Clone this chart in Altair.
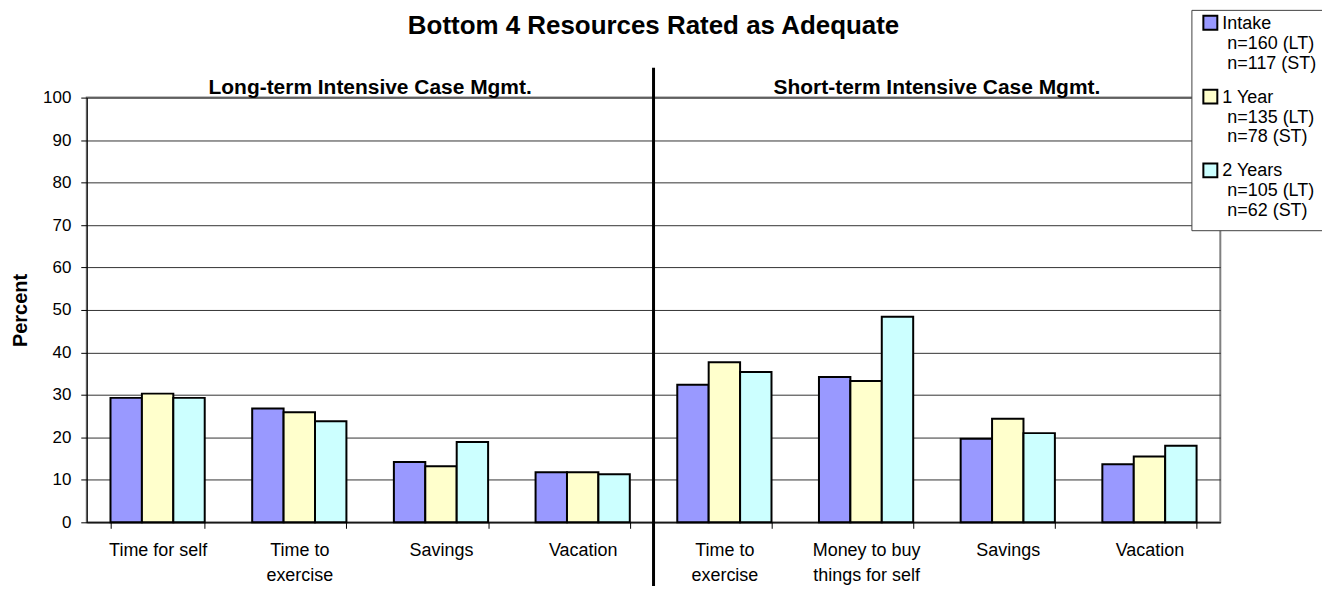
import altair as alt
import pandas as pd

FONT = "Liberation Sans"

TITLE = "Bottom 4 Resources Rated as Adequate"
PANEL_CODES = ["LT", "ST"]
PANEL_TITLES = ["Long-term Intensive Case Mgmt.", "Short-term Intensive Case Mgmt."]

CATS_LT = ["Time for self", "Time to|exercise", "Savings", "Vacation"]
CATS_ST = ["Time to|exercise", "Money to buy|things for self", "Savings", "Vacation"]

WAVES = ["Intake", "1 Year", "2 Years"]
N_LT = [160, 135, 105]
N_ST = [117, 78, 62]

INTAKE_LT = [29.3, 26.8, 14.2, 11.8]
YEAR1_LT = [30.3, 25.9, 13.2, 11.8]
YEAR2_LT = [29.3, 23.8, 18.9, 11.3]

INTAKE_ST = [32.4, 34.2, 19.7, 13.7]
YEAR1_ST = [37.7, 33.3, 24.4, 15.5]
YEAR2_ST = [35.4, 48.4, 21.0, 18.0]

COLORS = ["#9999FF", "#FFFFCC", "#CCFFFF"]
Y_TICKS = list(range(0, 101, 10))

# ---- build table ----
IND = "\u200b\u00a0"   # small indent kept through Vega's trim()
wave_labels = [
    f"{w}|{IND}n={a} (LT)|{IND}n={b} (ST)" for w, a, b in zip(WAVES, N_LT, N_ST)
]
keys_lt = [f"LT:{c}" for c in CATS_LT]
keys_st = [f"ST:{c}" for c in CATS_ST]
keys = keys_lt + keys_st

rows = []
for klist, series in ((keys_lt, [INTAKE_LT, YEAR1_LT, YEAR2_LT]), (keys_st, [INTAKE_ST, YEAR1_ST, YEAR2_ST])):
    for wl, vals in zip(wave_labels, series):
        for k, v in zip(klist, vals):
            rows.append({"key": k, "wave": wl, "value": v})
df = pd.DataFrame(rows)

W, H = 1137, 426
PI = 0.335
STEP = W / len(keys)
GAP = PI / 2 * STEP  # half of the gap between groups

# square legend swatch raised so that it sits beside the first label line
SWATCH = "M-1,-1.857L1,-1.857L1,0.143L-1,0.143Z"

X_AXIS = alt.Axis(
    title=None,
    labelExpr="split(slice(datum.label, 3), '|')",
    labelAngle=0,
    labelFont=FONT,
    labelFontSize=18,
    labelLineHeight=25,
    labelColor="black",
    labelPadding=13,
    labelBaseline="top",
    labelOverlap=False,
    labelLimit=300,
    tickBand="extent",
    tickSize=6,
    tickColor="black",
    tickWidth=1,
    domainColor="black",
    grid=False,
)

x_scale = alt.Scale(paddingInner=PI, paddingOuter=PI / 2)

bars = alt.Chart(df).mark_bar(stroke="black", strokeWidth=2).encode(
    x=alt.X("key:N", sort=keys, scale=x_scale, axis=X_AXIS),
    xOffset=alt.XOffset("wave:N", sort=wave_labels, scale=alt.Scale(paddingInner=0, paddingOuter=0)),
    y=alt.Y(
        "value:Q",
        scale=alt.Scale(domain=[0, 100], nice=False),
        axis=alt.Axis(
            values=Y_TICKS,
            title="Percent",
            titleFont=FONT,
            titleFontSize=20,
            titleFontWeight="bold",
            titleColor="black",
            titlePadding=12,
            labelFont=FONT,
            labelFontSize=17,
            labelColor="black",
            labelPadding=10,
            tickSize=6,
            tickColor="black",
            domainColor="black",
            grid=True,
            gridColor="#333333",
            gridWidth=1,
        ),
    ),
    color=alt.Color(
        "wave:N",
        sort=wave_labels,
        scale=alt.Scale(domain=wave_labels, range=COLORS),
        legend=alt.Legend(
            title=None,
            orient="none",
            legendX=1108,
            legendY=-88,
            labelExpr="split(datum.label, '|')",
            labelFont=FONT,
            labelFontSize=18,
            labelColor="black",
            labelBaseline="alphabetic",
            labelLimit=300,
            labelOffset=3,
            symbolType=SWATCH,
            symbolSize=196,
            symbolStrokeColor="black",
            symbolStrokeWidth=2,
            fillColor="white",
            strokeColor="#404040",
            padding=10,
            rowPadding=13,
        ),
    ),
)

divider = alt.Chart(pd.DataFrame({"key": [keys_lt[-1]]})).mark_rule(
    color="black", strokeWidth=3, xOffset=GAP
).encode(
    x=alt.X("key:N", sort=keys, bandPosition=1, scale=x_scale, axis=X_AXIS),
    y=alt.value(-30),
    y2=alt.value(H + 70),
)

subtitles = alt.Chart(
    pd.DataFrame({"key": [keys_lt[1], keys_st[1]], "label": PANEL_TITLES})
).mark_text(
    font=FONT, fontSize=21, fontWeight="bold", color="black", align="center", baseline="alphabetic", xOffset=GAP
).encode(
    x=alt.X("key:N", sort=keys, bandPosition=1, scale=x_scale, axis=X_AXIS),
    y=alt.value(-4),
    text="label:N",
)

title = alt.Chart(pd.DataFrame({"t": [TITLE]})).mark_text(
    font=FONT, fontSize=26, fontWeight="bold", color="black", align="center", baseline="alphabetic"
).encode(
    x=alt.value(W / 2),
    y=alt.value(-64),
    text="t:N",
)

chart = alt.layer(bars, divider, subtitles, title).properties(
    width=W,
    height=H,
    padding={"left": 79, "top": 89, "right": 102, "bottom": 63},
    autosize=alt.AutoSizeParams(type="none"),
    background="white",
).configure_view(stroke="#808080", strokeWidth=2)

chart.save("out.html", embed_options={"renderer": "svg", "actions": False})
